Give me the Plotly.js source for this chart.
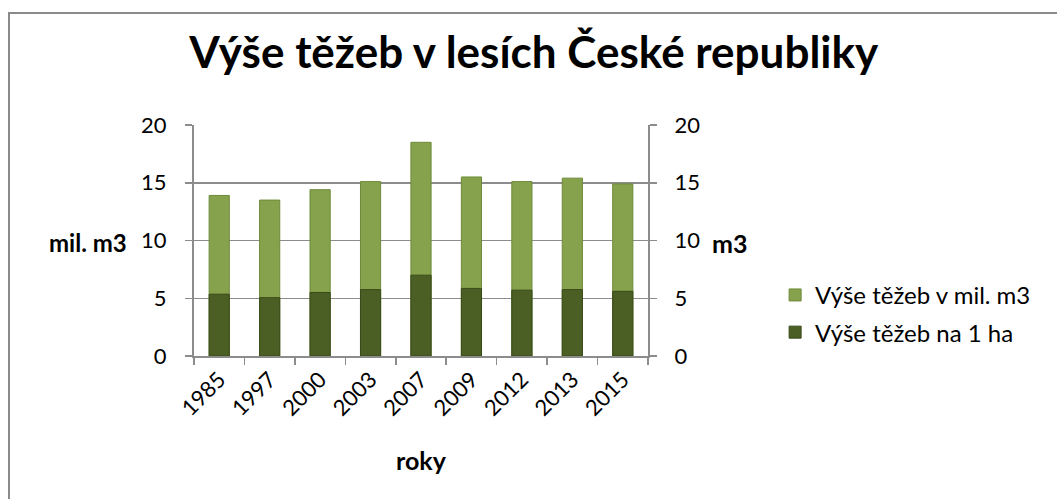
<!DOCTYPE html>
<html>
<head>
<meta charset="utf-8">
<script src="https://cdn.plot.ly/plotly-3.0.1.min.js"></script>
<style>
  html, body { margin: 0; padding: 0; background: #ffffff; overflow: hidden; }
  #chart { width: 1057px; height: 499px; position: absolute; left: 0; top: 0; }
  #frame { position: absolute; left: 8px; top: 12px; width: 1200px; height: 700px;
           border: 2px solid #8a8a8a; pointer-events: none; }
</style>
</head>
<body>
<div id="chart"></div>
<div id="frame"></div>
<script>
const years = ["1985", "1997", "2000", "2003", "2007", "2009", "2012", "2013", "2015"];
const harvestMilM3 = [13.9, 13.5, 14.4, 15.1, 18.5, 15.5, 15.1, 15.4, 14.9];
const harvestPerHa = [5.35, 5.05, 5.5, 5.75, 7.0, 5.85, 5.7, 5.75, 5.6];

const seriesNames = ["Výše těžeb v mil. m3", "Výše těžeb na 1 ha"];
const titleText = "Výše těžeb v lesích České republiky";
const xTitle = "roky";
const yLeftTitle = "mil. m3";
const yRightTitle = "m3";

const FONT = "Lato, Open Sans, sans-serif";
const gridCol = "#8c8c8c";

const traces = [
  {
    type: "bar", x: years, y: harvestMilM3, name: seriesNames[0],
    xaxis: "x", yaxis: "y", legendgroup: "a",
    marker: { color: "#86a24c", line: { color: "#6d8a3a", width: 1 } }
  },
  {
    type: "bar", x: years, y: harvestPerHa, name: seriesNames[1],
    xaxis: "x", yaxis: "y2", legendgroup: "b",
    marker: { color: "#4b5f24", line: { color: "#394a1a", width: 1 } }
  }
];

const layout = {
  width: 1057, height: 499,
  paper_bgcolor: "rgba(0,0,0,0)", plot_bgcolor: "rgba(0,0,0,0)",
  margin: { l: 194, r: 409, t: 125, b: 143, pad: 0 },
  font: { family: FONT, size: 22, color: "#000000" },
  title: {
    text: "<b>" + titleText + "</b>",
    font: { family: FONT, size: 44, color: "#000000" },
    x: 0.505, xanchor: "center", y: 0.895, yanchor: "middle"
  },
  bargap: 0.6,
  showlegend: true,
  legend: {
    x: 1.28, xanchor: "left", y: 0.36, yanchor: "top",
    font: { family: FONT, size: 24, color: "#000000" },
    traceorder: "grouped", itemwidth: 30, tracegroupgap: 3,
    bgcolor: "rgba(0,0,0,0)"
  },
  xaxis: {
    type: "category", showgrid: false,
    showline: true, linecolor: gridCol, linewidth: 2,
    ticks: "outside", tickson: "boundaries", ticklen: 7, tickcolor: gridCol, tickwidth: 1.5,
    tickangle: -45, tickfont: { family: FONT, size: 22, color: "#000" },
    zeroline: false
  },
  yaxis: {
    range: [0, 20], dtick: 5, tick0: 0,
    showgrid: true, gridcolor: gridCol, gridwidth: 1.5,
    showline: true, linecolor: gridCol, linewidth: 2,
    ticks: "outside", ticklen: 7, tickcolor: gridCol, tickwidth: 1.5,
    tickfont: { family: FONT, size: 22, color: "#000" },
    zeroline: false, ticklabelstandoff: 14
  },
  yaxis2: {
    overlaying: "y", side: "right",
    range: [0, 20], dtick: 5, tick0: 0,
    showgrid: false,
    showline: true, linecolor: gridCol, linewidth: 2,
    ticks: "outside", ticklen: 7, tickcolor: gridCol, tickwidth: 1.5,
    tickfont: { family: FONT, size: 22, color: "#000" },
    zeroline: false, ticklabelstandoff: 13
  },
  annotations: [
    { text: "<b>" + xTitle + "</b>", xref: "paper", yref: "paper",
      x: 0.5, y: -0.452, xanchor: "center", yanchor: "middle", showarrow: false,
      font: { family: FONT, size: 25, color: "#000" } },
    { text: "<b>" + yLeftTitle + "</b>", xref: "paper", yref: "paper",
      x: -0.2335, y: 0.49, xanchor: "center", yanchor: "middle", showarrow: false,
      font: { family: FONT, size: 24, color: "#000" } },
    { text: "<b>" + yRightTitle + "</b>", xref: "paper", yref: "paper",
      x: 1.18, y: 0.49, xanchor: "center", yanchor: "middle", showarrow: false,
      font: { family: FONT, size: 25, color: "#000" } }
  ]
};

Plotly.newPlot("chart", traces, layout, { staticPlot: true, displayModeBar: false });
</script>
</body>
</html>
